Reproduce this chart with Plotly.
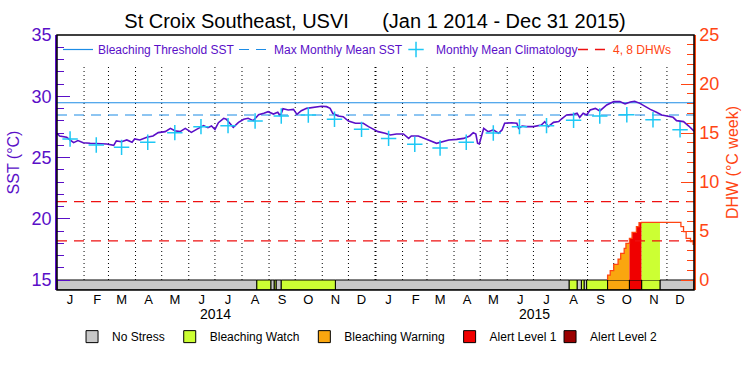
import plotly.graph_objects as go
import pandas as pd

# ---------------- data ----------------
title_text = "St Croix Southeast, USVI      (Jan 1 2014 - Dec 31 2015)"
x_start = "2014-01-01"
x_end = "2016-01-01"

# daily SST samples: day offset from 2014-01-01, value in degC
sst_day = [0, 3, 11, 19, 24, 30, 38, 49, 57, 65, 68, 74, 80, 86, 89, 95, 103, 110, 116, 124,
           130, 135, 141, 147, 154, 160, 168, 173, 177, 181, 185, 191, 194, 202, 208, 214, 219,
           225, 231, 237, 242, 248, 253, 256, 259, 265, 271, 275, 280, 286, 294, 303, 309, 313,
           316, 322, 328, 334, 342, 351, 357, 363, 368, 376,
           382, 389, 397, 403, 406, 414, 420, 427, 435, 443, 449, 458, 466, 473, 477, 480, 482,
           484, 489, 494, 500, 506, 510, 513, 521, 527, 529, 533, 538, 546, 555, 559, 563, 569,
           575, 578, 584, 592, 596, 599, 603, 607, 611, 617, 622, 630, 638, 645, 651, 657, 662,
           668, 674, 680, 687, 693, 699, 706, 710, 718, 724, 727, 730]
sst_val = [26.98, 26.76, 26.65, 26.21, 26.38, 26.21, 26.16, 26.10, 26.10, 25.99, 26.35, 26.29,
           26.43, 26.24, 26.51, 26.43, 26.65, 26.76, 27.03, 27.11, 27.38, 27.19, 27.11, 27.38,
           27.05, 27.30, 27.60, 27.44, 27.57, 27.30, 27.84, 28.20, 28.12, 27.46, 27.87, 28.12,
           28.20, 28.01, 28.50, 28.61, 28.74, 28.55, 28.69, 28.39, 28.99, 28.88, 28.93, 28.52,
           28.82, 29.01, 29.10, 29.18, 29.15, 29.01, 28.61, 28.39, 28.33, 27.98, 27.79, 27.79,
           27.52, 27.33, 27.11, 26.98,
           26.84, 26.92, 26.92, 26.56, 26.76, 26.76, 26.56, 26.38, 26.16, 26.29, 26.43, 26.48,
           26.56, 26.76, 27.03, 26.92, 26.16, 26.10, 27.38, 27.11, 27.25, 26.98, 27.25, 27.79,
           27.84, 27.79, 27.38, 27.57, 27.52, 27.52, 27.65, 27.93, 27.52, 27.87, 27.93, 28.14,
           28.47, 28.52, 28.61, 28.28, 28.61, 28.47, 28.88, 29.01, 28.80, 29.29, 29.56, 29.56,
           29.37, 29.53, 29.59, 29.42, 29.15, 28.93, 28.69, 28.47, 28.39, 28.28, 28.01, 27.93,
           27.57, 27.33, 27.15]

clim_dates = ["2014-01-16", "2014-02-15", "2014-03-16", "2014-04-15", "2014-05-16", "2014-06-15",
              "2014-07-16", "2014-08-16", "2014-09-15", "2014-10-16", "2014-11-15", "2014-12-16",
              "2015-01-16", "2015-02-15", "2015-03-16", "2015-04-15", "2015-05-16", "2015-06-15",
              "2015-07-16", "2015-08-16", "2015-09-15", "2015-10-16", "2015-11-15", "2015-12-16"]
clim_vals = [26.51, 26.02, 25.83, 26.24, 27.03, 27.52, 27.60, 27.98, 28.39, 28.47, 28.12, 27.30,
             26.56, 26.08, 25.78, 26.24, 27.00, 27.52, 27.60, 28.04, 28.39, 28.49, 28.08, 27.27]

mmm_sst = 28.47
threshold_sst = 29.47
dhw_ref_levels = [4, 8]

dhw_dates = ["2015-09-24", "2015-09-24", "2015-09-27", "2015-10-01", "2015-10-06", "2015-10-09",
             "2015-10-13", "2015-10-15", "2015-10-19", "2015-10-22", "2015-10-27", "2015-10-30",
             "2015-11-02", "2015-12-17", "2015-12-20", "2015-12-23", "2015-12-28", "2015-12-31"]
dhw_vals = [0.0, 0.5, 0.95, 1.6, 2.14, 2.72, 3.23, 3.74, 4.25, 4.86, 5.44, 5.85,
            5.88, 5.44, 4.93, 4.25, 3.91, 3.64]

stress_start = ["2014-01-01", "2014-08-18", "2014-09-03", "2014-09-07", "2014-09-09", "2014-09-15",
                "2014-11-16", "2015-08-11", "2015-08-20", "2015-08-25", "2015-08-28", "2015-08-31",
                "2015-09-24", "2015-10-19", "2015-11-02", "2015-11-23"]
stress_end = ["2014-08-18", "2014-09-03", "2014-09-07", "2014-09-09", "2014-09-15", "2014-11-16",
              "2015-08-11", "2015-08-20", "2015-08-25", "2015-08-28", "2015-08-31", "2015-09-24",
              "2015-10-19", "2015-11-02", "2015-11-23", "2016-01-01"]
stress_level = [0, 1, 0, 1, 0, 1, 0, 1, 0, 1, 0, 1, 2, 3, 1, 0]

level_names = ["No Stress", "Bleaching Watch", "Bleaching Warning", "Alert Level 1", "Alert Level 2"]
level_colors = ["#C8C8C8", "#CCFF33", "#FAA60F", "#F00000", "#9A0000"]
month_letters = ["J", "F", "M", "A", "M", "J", "J", "A", "S", "O", "N", "D"] * 2
year_labels = ["2014", "2015"]

# ---------------- styling ----------------
PURPLE = "#5A0FC8"
ORANGE = "#FF4513"
BLUE = "#1C8CE6"
CYAN = "#1EC8F5"
RED = "#EE1111"
FONT = "Liberation Sans"

Y1_MIN, Y1_MAX = 14.184, 35
Y2_MIN, Y2_MAX = -1.0204, 25

fig = go.Figure()

t0 = pd.Timestamp(x_start)
t1 = pd.Timestamp(x_end)
sst_dates = [t0 + pd.Timedelta(days=d) for d in sst_day]

# stress bar (bars drawn from segment data)
for lvl, name in enumerate(level_names):
    idx = [i for i, l in enumerate(stress_level) if l == lvl]
    xs = [stress_start[i] for i in idx]
    widths = [(pd.Timestamp(stress_end[i]) - pd.Timestamp(stress_start[i])).total_seconds() * 1000
              for i in idx]
    fig.add_trace(go.Bar(
        x=xs if xs else [None], y=[15 - Y1_MIN] * len(xs) if xs else [None],
        base=Y1_MIN, width=widths if widths else None, offset=0,
        marker=dict(color=level_colors[lvl], line=dict(color="black", width=1)),
        name=name, legend="legend6" if lvl == 4 else "legend2", showlegend=True,
        hoverinfo="skip", yaxis="y"))

# DHW fills coloured by stress level
dd = [pd.Timestamp(d) for d in dhw_dates]


def dhw_at(t):
    v = 0.0
    for d, val in zip(dd, dhw_vals):
        if d <= t:
            v = val
    return v


for s, e, lvl in zip(stress_start, stress_end, stress_level):
    if lvl == 0:
        continue
    s, e = pd.Timestamp(s), pd.Timestamp(e)
    xs = [s] + [d for d in dd if s < d < e] + [e]
    ys = [dhw_at(x) for x in xs[:-1]]
    ys.append(ys[-1])
    if max(ys) <= 0:
        continue
    fig.add_trace(go.Scatter(x=xs, y=ys, yaxis="y2", mode="lines", line=dict(width=0, shape="hv"),
                             fill="tozeroy", fillcolor=level_colors[lvl], showlegend=False,
                             hoverinfo="skip"))

# DHW reference lines
hx, hy = [], []
for lv in dhw_ref_levels:
    hx += [t0, t1, None]
    hy += [lv, lv, None]
fig.add_trace(go.Scatter(x=hx, y=hy, yaxis="y2", mode="lines",
                         line=dict(color=RED, width=1.3, dash="10px,7px"),
                         name="4, 8 DHWs", legend="legend5"))

# DHW line
fig.add_trace(go.Scatter(x=dd + [t1], y=dhw_vals + [dhw_vals[-1]], yaxis="y2", mode="lines",
                         line=dict(color=ORANGE, width=1.3, shape="hv"), showlegend=False))

# threshold & MMM
fig.add_trace(go.Scatter(x=[t0, t1], y=[threshold_sst] * 2, mode="lines",
                         line=dict(color=BLUE, width=1.2), name="Bleaching Threshold SST",
                         legend="legend"))
fig.add_trace(go.Scatter(x=[t0, t1], y=[mmm_sst] * 2, mode="lines",
                         line=dict(color=BLUE, width=1.2, dash="10px,7px"),
                         name="Max Monthly Mean SST", legend="legend3"))

# SST
fig.add_trace(go.Scatter(x=sst_dates, y=sst_val, mode="lines",
                         line=dict(color=PURPLE, width=1.6), showlegend=False))

# climatology
fig.add_trace(go.Scatter(x=clim_dates, y=clim_vals, mode="markers",
                         marker=dict(symbol="cross-thin", size=11, line=dict(color=CYAN, width=1.5)),
                         name="Monthly Mean Climatology", legend="legend4"))

# month boundary dotted lines
shapes = []
for m in pd.date_range("2014-02-01", "2015-12-01", freq="MS"):
    shapes.append(dict(type="line", xref="x", yref="y", x0=m, x1=m, y0=15, y1=32.55,
                       line=dict(color="black", width=2 if m.month == 1 else 1,
                                 dash="1px,3px"),
                       layer="below"))
shapes.append(dict(type="rect", xref="paper", yref="paper", x0=0, x1=1, y0=0, y1=1,
                   line=dict(color="black", width=1.5), layer="above"))

month_starts = pd.date_range(x_start, periods=24, freq="MS")
month_mid = [m + pd.Timedelta(days=15) for m in month_starts]

annotations = []
for yr in year_labels:
    annotations.append(dict(x=pd.Timestamp(yr + "-07-02"), y=-0.095, xref="x", yref="paper",
                            text=yr, showarrow=False, font=dict(size=14, color="black", family=FONT),
                            yanchor="middle"))

leg_common = dict(orientation="h", xanchor="left", yanchor="top", bgcolor="rgba(0,0,0,0)",
                  traceorder="normal", itemwidth=30)
top_font = dict(size=12, color=PURPLE, family=FONT)
bot_font = dict(size=12, color="black", family=FONT)
fig.update_layout(
    width=750, height=375,
    margin=dict(l=57, r=56, t=35, b=85, autoexpand=False),
    paper_bgcolor="white", plot_bgcolor="white",
    font=dict(family=FONT),
    title=dict(text=title_text, x=0.5, xanchor="center", y=0.945, yanchor="middle",
               font=dict(size=20, color="black", family=FONT)),
    barmode="overlay",
    showlegend=True,
    legend=dict(x=0.0016, y=1.0, font=top_font, **leg_common),
    legend3=dict(x=0.2779, y=1.0, font=top_font, **leg_common),
    legend4=dict(x=0.5322, y=1.0, font=top_font, **leg_common),
    legend5=dict(x=0.8100, y=1.0, font=dict(size=12, color=ORANGE, family=FONT), **leg_common),
    legend2=dict(x=0.0236, y=-0.126, font=bot_font, **leg_common),
    legend6=dict(x=0.774, y=-0.126, font=bot_font, **leg_common),
    xaxis=dict(range=[t0, t1], tickvals=month_mid, ticktext=month_letters, ticks="",
               showgrid=False, zeroline=False, showline=False, automargin=False,
               tickfont=dict(size=13, color="black", family=FONT)),
    yaxis=dict(range=[Y1_MIN, Y1_MAX], tickvals=[15, 20, 25, 30, 35], ticks="inside", ticklen=13,
               tickcolor=PURPLE, tickwidth=1.2, automargin=False,
               minor=dict(tickvals=[v for v in range(15, 36)], ticks="inside", ticklen=7,
                          tickcolor=PURPLE, tickwidth=1.2),
               showline=True, linecolor=PURPLE, linewidth=1.5, showgrid=False, zeroline=False,
               tickfont=dict(size=18, color=PURPLE, family=FONT),
               title=dict(text="SST (°C)", font=dict(size=16, color=PURPLE, family=FONT),
                          standoff=8)),
    yaxis2=dict(range=[Y2_MIN, Y2_MAX], overlaying="y", side="right",
                tickvals=[0, 5, 10, 15, 20, 25], ticks="inside", ticklen=13,
                tickcolor=ORANGE, tickwidth=1.2, automargin=False,
                minor=dict(tickvals=list(range(0, 26)), ticks="inside", ticklen=7,
                           tickcolor=ORANGE, tickwidth=1.2),
                showline=True, linecolor=ORANGE, linewidth=1.5, showgrid=False, zeroline=False,
                tickfont=dict(size=18, color=ORANGE, family=FONT),
                title=dict(text="DHW (°C week)", font=dict(size=16, color=ORANGE, family=FONT),
                           standoff=8)),
    shapes=shapes,
    annotations=annotations,
)

fig.write_html("out.html", config={"displayModeBar": False},
               post_script="document.body.style.margin='0px';")
